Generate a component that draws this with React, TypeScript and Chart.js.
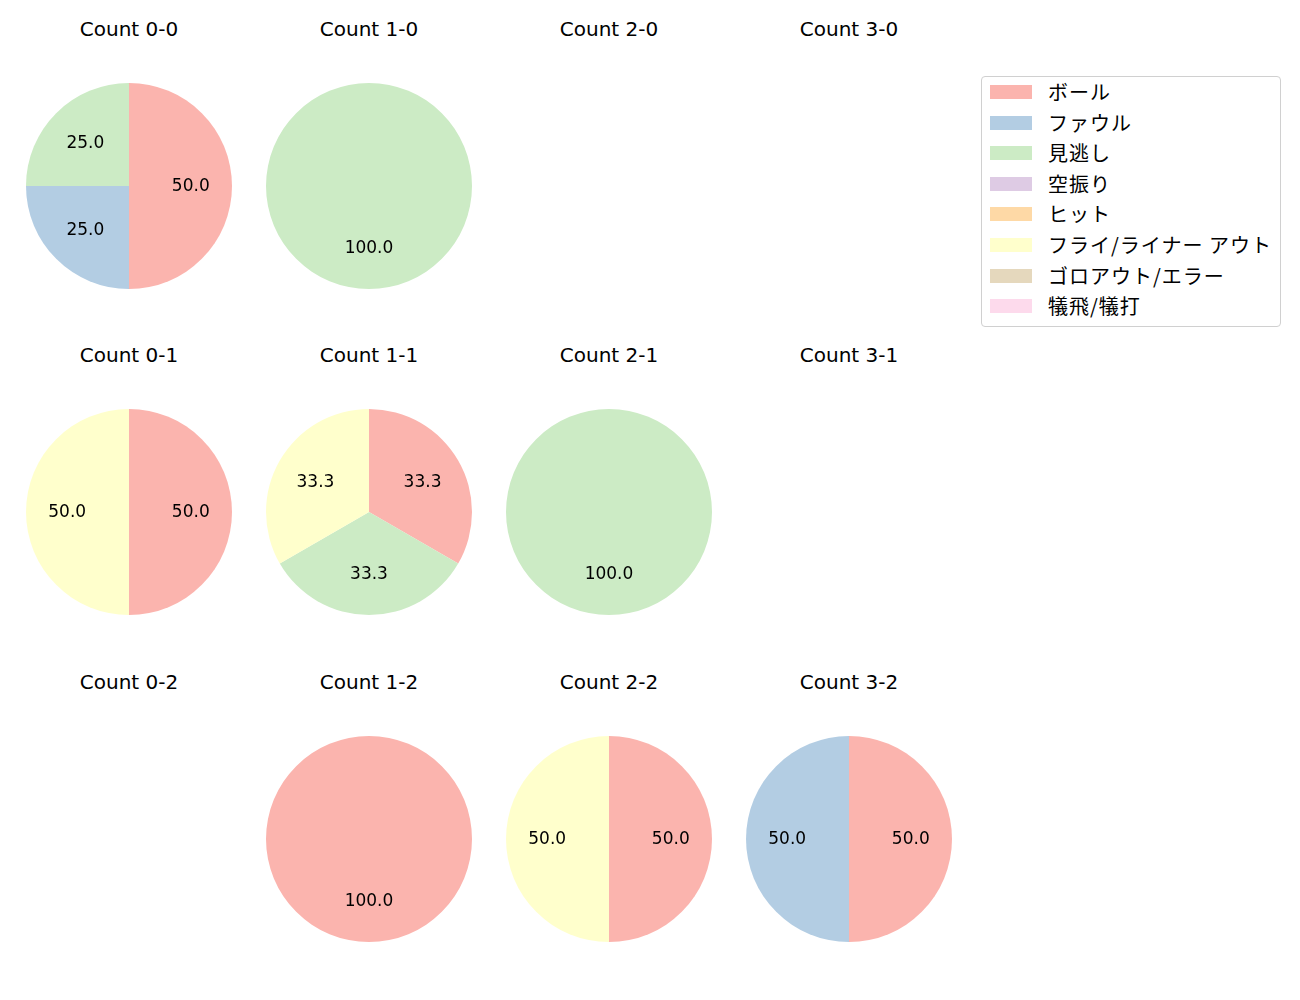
import React, { useEffect, useRef } from 'react';
import { Chart, registerables } from 'chart.js';
Chart.register(...registerables);

const categories = ['ボール', 'ファウル', '見逃し', '空振り', 'ヒット', 'フライ/ライナー アウト', 'ゴロアウト/エラー', '犠飛/犠打'];
const colors = ['#fbb4ae', '#b3cde3', '#ccebc5', '#decbe4', '#fed9a6', '#ffffcc', '#e5d8bd', '#fddaec'];

const titles = [
  'Count 0-0', 'Count 1-0', 'Count 2-0', 'Count 3-0',
  'Count 0-1', 'Count 1-1', 'Count 2-1', 'Count 3-1',
  'Count 0-2', 'Count 1-2', 'Count 2-2', 'Count 3-2',
];

const c00 = [2, 1, 1, 0, 0, 0, 0, 0];
const c10 = [0, 0, 1, 0, 0, 0, 0, 0];
const c20 = [0, 0, 0, 0, 0, 0, 0, 0];
const c30 = [0, 0, 0, 0, 0, 0, 0, 0];
const c01 = [1, 0, 0, 0, 0, 1, 0, 0];
const c11 = [1, 0, 1, 0, 0, 1, 0, 0];
const c21 = [0, 0, 1, 0, 0, 0, 0, 0];
const c31 = [0, 0, 0, 0, 0, 0, 0, 0];
const c02 = [0, 0, 0, 0, 0, 0, 0, 0];
const c12 = [1, 0, 0, 0, 0, 0, 0, 0];
const c22 = [1, 0, 0, 0, 0, 1, 0, 0];
const c32 = [1, 1, 0, 0, 0, 0, 0, 0];

const allCounts = [c00, c10, c20, c30, c01, c11, c21, c31, c02, c12, c22, c32];

const LATIN = '"DejaVu Sans", "Noto Sans CJK JP", sans-serif';
const CJK = '"Noto Sans CJK JP", "DejaVu Sans", sans-serif';
const colX = [129, 369, 609, 849];
const rowY = [186, 512, 839];
const titleY = [29, 355, 682];
const R = 103;

const pctLabels = {
  id: 'pctLabels',
  afterDatasetsDraw(chart: any) {
    const ctx = chart.ctx;
    const ds = chart.data.datasets[0];
    const data = ds.data as number[];
    const total = data.reduce((a, b) => a + b, 0);
    if (!total) return;
    const meta = chart.getDatasetMeta(0);
    ctx.save();
    ctx.font = `17px ${LATIN}`;
    ctx.fillStyle = '#000';
    ctx.textAlign = 'center';
    ctx.textBaseline = 'middle';
    meta.data.forEach((arc: any, i: number) => {
      const v = data[i];
      if (!v) return;
      const { startAngle, endAngle, x, y, outerRadius } = arc.getProps(['startAngle', 'endAngle', 'x', 'y', 'outerRadius'], true);
      const mid = (startAngle + endAngle) / 2;
      const px = x + Math.cos(mid) * outerRadius * 0.6;
      const py = y + Math.sin(mid) * outerRadius * 0.6 + 1;
      ctx.fillText(((v / total) * 100).toFixed(1), px, py);
    });
    ctx.restore();
  },
};

function Pie({ values }: { values: number[] }) {
  const ref = useRef<HTMLCanvasElement>(null);
  useEffect(() => {
    if (!ref.current) return;
    const chart = new Chart(ref.current, {
      type: 'pie',
      data: {
        labels: categories,
        datasets: [{ data: values, backgroundColor: colors, borderWidth: 0 }],
      },
      options: {
        responsive: false,
        animation: false,
        layout: { padding: 0 },
        plugins: { legend: { display: false }, tooltip: { enabled: false } },
      },
      plugins: [pctLabels],
    });
    return () => chart.destroy();
  }, [values]);
  return <canvas ref={ref} width={2 * R} height={2 * R} style={{ width: 2 * R, height: 2 * R }} />;
}

export default function App() {
  return (
    <div style={{ position: 'absolute', left: 0, top: 0, width: 1300, height: 1000, background: '#fff' }}>
      {allCounts.map((vals, idx) => {
        const col = idx % 4;
        const row = Math.floor(idx / 4);
        return (
          <React.Fragment key={idx}>
            <div
              style={{
                position: 'absolute',
                left: colX[col] - 120,
                top: titleY[row] - 15,
                width: 240,
                height: 30,
                lineHeight: '30px',
                textAlign: 'center',
                fontSize: 20,
                fontFamily: LATIN,
                color: '#000',
              }}
            >
              {titles[idx]}
            </div>
            <div style={{ position: 'absolute', left: colX[col] - R, top: rowY[row] - R, width: 2 * R, height: 2 * R }}>
              <Pie values={vals} />
            </div>
          </React.Fragment>
        );
      })}
      <div
        style={{
          position: 'absolute',
          left: 981,
          top: 76,
          width: 298,
          height: 249,
          border: '1px solid #d0d0d0',
          borderRadius: 4,
          background: '#fff',
          fontFamily: CJK,
        }}
      >
        {categories.map((c, i) => (
          <div key={c} style={{ position: 'absolute', left: 0, top: i * 30.6, height: 30, width: 298 }}>
            <div style={{ position: 'absolute', left: 8, top: 8, width: 42, height: 14, background: colors[i] }} />
            <div style={{ position: 'absolute', left: 66, top: 0, lineHeight: '30px', fontSize: 20, letterSpacing: 1, whiteSpace: 'nowrap', color: '#000' }}>
              {c}
            </div>
          </div>
        ))}
      </div>
    </div>
  );
}
